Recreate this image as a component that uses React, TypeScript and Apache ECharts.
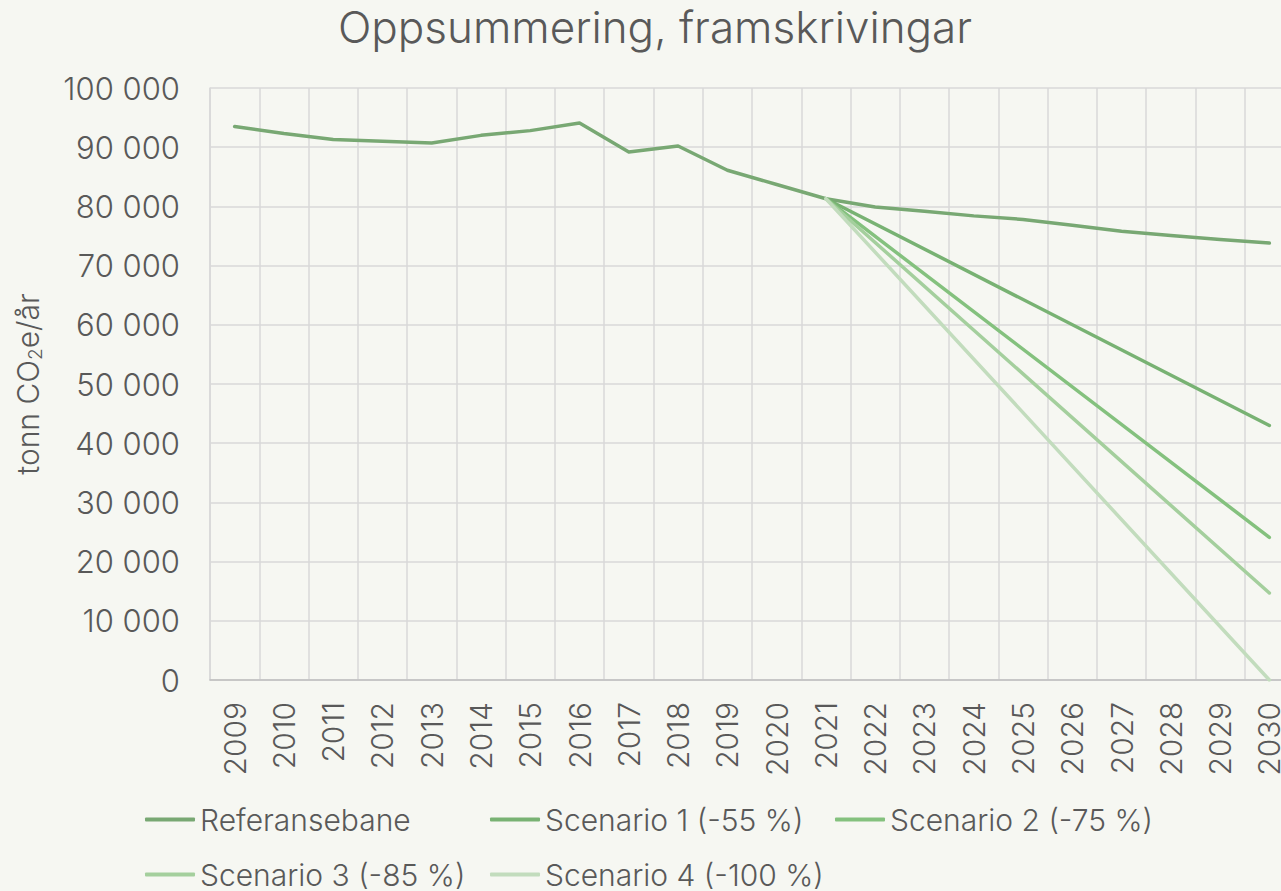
import React, { useEffect, useRef } from "react";
import * as echarts from "echarts";

const years = ["2009","2010","2011","2012","2013","2014","2015","2016","2017","2018","2019","2020","2021","2022","2023","2024","2025","2026","2027","2028","2029","2030"];
const referansebane = [93500, 92300, 91300, 91000, 90700, 92000, 92800, 94100, 89200, 90200, 86100, 83700, 81300, 79900, 79200, 78400, 77800, 76800, 75800, 75100, 74400, 73800];
const scenario1 = [null, null, null, null, null, null, null, null, null, null, null, null, 81300, null, null, null, null, null, null, null, null, 43000];
const scenario2 = [null, null, null, null, null, null, null, null, null, null, null, null, 81300, null, null, null, null, null, null, null, null, 24100];
const scenario3 = [null, null, null, null, null, null, null, null, null, null, null, null, 81300, null, null, null, null, null, null, null, null, 14700];
const scenario4 = [null, null, null, null, null, null, null, null, null, null, null, null, 81300, null, null, null, null, null, null, null, null, 0];
const seriesNames = ["Referansebane", "Scenario 1 (-55 %)", "Scenario 2 (-75 %)", "Scenario 3 (-85 %)", "Scenario 4 (-100 %)"];
const seriesColors = ["#78a873", "#78b273", "#84c17e", "#a4cf9d", "#c2dcbd"];

const FONT = "Inter";
const TEXT = "#595959";

export default function App() {
  const ref = useRef<HTMLDivElement>(null);
  useEffect(() => {
    if (!ref.current) return;
    const chart = echarts.init(ref.current, null, { renderer: "svg" });
    const datas = [referansebane, scenario1, scenario2, scenario3, scenario4];
    chart.setOption({
      animation: false,
      backgroundColor: "#f6f7f2",
      textStyle: { fontFamily: FONT },
      title: {
        text: "Oppsummering, framskrivingar",
        left: 650,
        textAlign: "center",
        top: 0,
        textStyle: { fontFamily: FONT, fontSize: 44, fontWeight: 300, color: TEXT },
      },
      grid: { left: 210, right: 6, top: 88, bottom: 211, containLabel: false },
      legend: {
        left: 140,
        top: 787,
        width: 1040,
        itemGap: 0,
        itemWidth: 50,
        itemHeight: 4,
        icon: "roundRect",
        data: seriesNames,
        textStyle: { fontFamily: FONT, fontSize: 30, fontWeight: 300, color: TEXT, width: 290, lineHeight: 55 },
      },
      xAxis: {
        type: "category",
        data: years,
        boundaryGap: true,
        axisLine: { show: true, lineStyle: { color: "#bfbfbf", width: 1.5 } },
        axisTick: { show: false },
        splitLine: { show: true, lineStyle: { color: "#d9d9d9", width: 1.5 } },
        axisLabel: { rotate: 90, margin: 22, fontFamily: FONT, fontSize: 30, fontWeight: 300, color: TEXT, interval: 0 },
      },
      yAxis: {
        type: "value",
        min: 0,
        max: 100000,
        interval: 10000,
        name: "tonn CO{sub|2}e/år",
        nameLocation: "middle",
        nameRotate: 90,
        nameGap: 165,
        nameTextStyle: {
          fontFamily: FONT,
          fontSize: 30,
          fontWeight: 300,
          color: TEXT,
          rich: { sub: { fontFamily: FONT, fontSize: 19, fontWeight: 300, color: TEXT, padding: [16, 0, 0, 0] } },
        },
        axisLine: { show: true, lineStyle: { color: "#d9d9d9", width: 1.5 } },
        axisTick: { show: false },
        splitLine: { show: true, lineStyle: { color: "#d9d9d9", width: 1.5 } },
        axisLabel: {
          margin: 30,
          fontFamily: FONT,
          fontSize: 31,
          fontWeight: 300,
          color: TEXT,
          formatter: (v: number) => String(v).replace(/\B(?=(\d{3})+(?!\d))/g, " "),
        },
      },
      series: datas.map((d, i) => ({
        name: seriesNames[i],
        type: "line",
        data: d,
        connectNulls: true,
        showSymbol: false,
        symbol: "none",
        color: seriesColors[i],
        lineStyle: { width: 3.5, color: seriesColors[i], cap: "round", join: "round" },
      })),
    });
    return () => chart.dispose();
  }, []);
  return (
    <div style={{ position: "absolute", left: 0, top: 0, width: 1281, height: 891, overflow: "hidden", background: "#f6f7f2" }}>
      <div ref={ref} style={{ width: 1300, height: 891 }} />
    </div>
  );
}
